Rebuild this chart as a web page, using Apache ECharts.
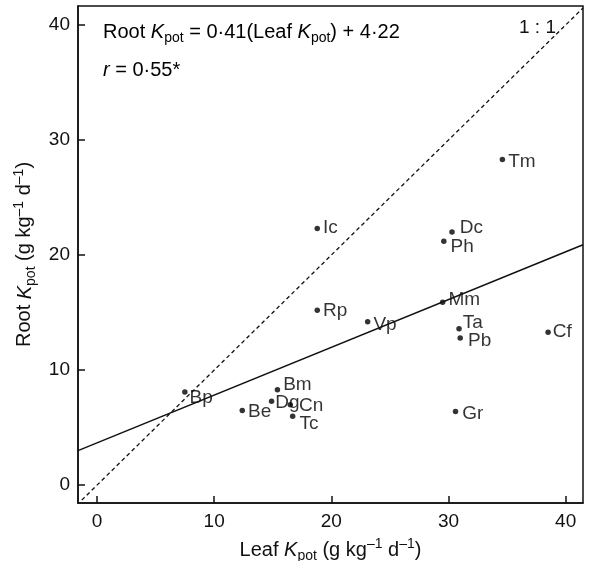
<!DOCTYPE html>
<html>
<head>
<meta charset="utf-8">
<script src="https://cdn.jsdelivr.net/npm/echarts@6/dist/echarts.min.js"></script>
<style>
  html, body { margin: 0; padding: 0; background: #fff; }
  #main { width: 590px; height: 561px; }
</style>
</head>
<body>
<div id="main"></div>
<script>
// species codes and their potassium values (g kg-1 d-1)
const species = ['Tm', 'Ic', 'Dc', 'Ph', 'Mm', 'Rp', 'Vp', 'Ta', 'Pb', 'Cf', 'Gr', 'Bp', 'Bm', 'Dg', 'Cn', 'Be', 'Tc'];
const leafK = [34.6, 18.8, 30.3, 29.6, 29.5, 18.8, 23.1, 30.9, 31.0, 38.5, 30.6, 7.5, 15.4, 14.9, 16.5, 12.4, 16.7];
const rootK = [28.3, 22.3, 22.0, 21.2, 15.9, 15.2, 14.2, 13.6, 12.8, 13.3, 6.4, 8.1, 8.3, 7.3, 7.0, 6.5, 6.0];

// regression line and 1:1 line ends
const fitX = [-1.62, 41.48];
const fitY = [3.0, 20.9];
const oneX = [-1.3, 41.48];
const oneY = [-1.3, 41.48];

const xTicks = [0, 10, 20, 30, 40];
const yTicks = [0, 10, 20, 30, 40];

// label nudges so the codes sit like the original
const labelShift = {
  Tm: [0, 2], Ic: [0, -1], Dc: [2, -4], Ph: [1, 5], Mm: [0, -2], Rp: [0, 0],
  Vp: [0, 3], Ta: [-2, -6], Pb: [2, 3], Cf: [-1, 0], Gr: [1, 2], Bp: [-1, 6],
  Bm: [0, -5], Dg: [-2, 2], Cn: [3, 1], Be: [0, 1], Tc: [1, 8]
};

const ink = '#111';
const font = '"Liberation Sans", Arial, Helvetica, sans-serif';

function richSet(size) {
  return {
    n: { fontSize: size, fontFamily: font, color: ink, lineHeight: 26 },
    i: { fontSize: size, fontFamily: font, color: ink, lineHeight: 26, fontStyle: 'italic' },
    s: { fontSize: size - 6, fontFamily: font, color: ink, lineHeight: 12, verticalAlign: 'bottom' },
    p: { fontSize: size - 6, fontFamily: font, color: ink, lineHeight: 15, verticalAlign: 'top' }
  };
}
const rich = richSet(20);

const points = species.map((s, k) => ({
  name: s,
  value: [leafK[k], rootK[k]],
  label: { offset: labelShift[s] }
}));

const chart = echarts.init(document.getElementById('main'));

chart.setOption({
  animation: false,
  backgroundColor: '#fff',
  grid: {
    left: 78, right: 7, top: 6, bottom: 58,
    show: true, borderColor: ink, borderWidth: 1.5,
    containLabel: false, outerBoundsMode: 'none'
  },
  xAxis: {
    type: 'value', min: -1.62, max: 41.48,
    name: '{n|Leaf }{i|K}{s|pot}{n| (g kg}{p|–1}{n| d}{p|–1}{n|)}',
    nameLocation: 'middle', nameGap: 34,
    nameTextStyle: { rich: rich },
    axisLine: { onZero: false, lineStyle: { color: ink, width: 1.5 } },
    axisTick: { inside: true, length: 7, lineStyle: { color: ink, width: 1.5 }, customValues: xTicks },
    axisLabel: { customValues: xTicks, color: ink, fontSize: 19, fontFamily: font, margin: 9 },
    splitLine: { show: false }
  },
  yAxis: {
    type: 'value', min: -1.55, max: 41.65,
    name: '{n|Root }{i|K}{s|pot}{n| (g kg}{p|–1}{n| d}{p|–1}{n|)}',
    nameLocation: 'middle', nameGap: 40,
    nameTextStyle: { rich: rich },
    axisLine: { onZero: false, lineStyle: { color: ink, width: 1.5 } },
    axisTick: { inside: true, length: 7, lineStyle: { color: ink, width: 1.5 }, customValues: yTicks },
    axisLabel: { customValues: yTicks, color: ink, fontSize: 19, fontFamily: font, margin: 8 },
    splitLine: { show: false }
  },
  graphic: [
    {
      type: 'text', left: 103, top: 22,
      style: {
        text: '{n|Root }{i|K}{s|pot}{n| = 0·41(Leaf }{i|K}{s|pot}{n|) + 4·22}',
        rich: rich
      }
    },
    {
      type: 'text', left: 103, top: 60,
      style: { text: '{i|r}{n| = 0·55*}', rich: rich }
    },
    {
      type: 'text', left: 519, top: 18,
      style: { text: '1 : 1', fontSize: 19, fontFamily: font, fill: ink }
    }
  ],
  series: [
    {
      type: 'line',
      data: oneX.map((x, k) => [x, oneY[k]]),
      symbol: 'none',
      lineStyle: { color: ink, width: 1.3, type: [4, 3] },
      silent: true
    },
    {
      type: 'line',
      data: fitX.map((x, k) => [x, fitY[k]]),
      symbol: 'none',
      lineStyle: { color: ink, width: 1.5 },
      silent: true
    },
    {
      type: 'scatter',
      data: points,
      symbolSize: 5.5,
      itemStyle: { color: '#000' },
      label: {
        show: true, position: 'right', distance: 3,
        formatter: '{b}', color: '#000', fontSize: 19, fontFamily: font
      }
    }
  ]
});
</script>
</body>
</html>
